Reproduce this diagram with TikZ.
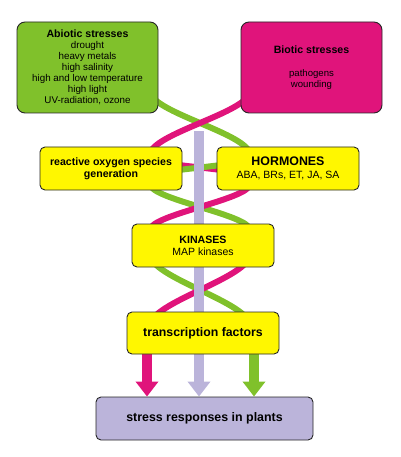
\documentclass[tikz,border=0pt]{standalone}
\usepackage{fontspec}
\setmainfont{Liberation Sans}
\usetikzlibrary{arrows.meta,backgrounds}

\definecolor{abioticgreen}{HTML}{80C12B}
\definecolor{bioticpink}{HTML}{E0147B}
\definecolor{boxyellow}{HTML}{FFF700}
\definecolor{lilac}{HTML}{BBB4DA}

\tikzset{
	box/.style={draw=black!85,line width=0.9pt,rounded corners=5pt,inner sep=0pt,align=center,minimum width=142pt,minimum height=43pt},
	strand/.style={line width=6pt},
	bigarrow/.style={line width=10pt,-{Triangle[width=22pt,length=15pt]}}
}

\begin{document}
\begin{tikzpicture}[x=1pt,y=-1pt]
\useasboundingbox (0,0) rectangle (400,457);

\node[box,fill=abioticgreen,rounded corners=8pt,minimum width=141pt,minimum height=91pt,font=\fontsize{9.8}{11}\selectfont] (abiotic) at (87.5,67.5) {{\fontsize{10.6}{12}\selectfont\bfseries Abiotic stresses}\\drought\\heavy metals\\high salinity\\high and low temperature\\high light\\UV-radiation, ozone};
\node[box,fill=bioticpink,rounded corners=8pt,minimum width=141pt,minimum height=91pt,font=\fontsize{9.6}{11}\selectfont] (biotic) at (311.5,67.5) {{\fontsize{10.6}{12}\selectfont\bfseries Biotic stresses}\\[12pt]pathogens\\wounding};

\node[box,fill=boxyellow,font=\fontsize{10.6}{12}\selectfont\bfseries] (ros) at (111,168.5) {reactive oxygen species\\generation};
\node[box,fill=boxyellow,font=\fontsize{10.5}{13}\selectfont] (hormones) at (288,168.5) {{\fontsize{12.4}{13}\selectfont\bfseries HORMONES}\\ABA, BRs, ET, JA, SA};
\node[box,fill=boxyellow,font=\fontsize{10.5}{12}\selectfont] (kinases) at (203,245.5) {{\fontsize{10.6}{12}\selectfont\bfseries KINASES}\\MAP kinases};
\node[box,fill=boxyellow,minimum width=152pt,minimum height=42pt,font=\fontsize{12.3}{14}\selectfont\bfseries] (tf) at (203,333) {transcription factors};
\node[box,fill=lilac,minimum width=217pt,font=\fontsize{12.4}{14}\selectfont\bfseries] (resp) at (204.5,418.5) {stress responses in plants};

\begin{scope}[on background layer]
% helix
\foreach \ya/\yb in {91/155,184/230,254/326}{
	\draw[strand,abioticgreen](150,\ya) .. controls (150,{\ya+(\yb-\ya)/3}) and (250,{\yb-(\yb-\ya)/3}) .. (250,\yb);
	\draw[strand,bioticpink](250,\ya) .. controls (250,{\ya+(\yb-\ya)/3}) and (150,{\yb-(\yb-\ya)/3}) .. (150,\yb);
}
\draw[strand,bioticpink](170,164)--(230,171);
\draw[strand,abioticgreen](230,164)--(170,171);

\coordinate (ltop) at (199,131);
\coordinate (pk) at ([xshift=-56pt]tf.south);
\coordinate (gr) at ([xshift=51pt]tf.south);
\draw[bigarrow,lilac](ltop)--(ltop |- resp.north);
\draw[bigarrow,bioticpink](pk)--(pk |- resp.north);
\draw[bigarrow,abioticgreen](gr)--(gr |- resp.north);
\end{scope}

\end{tikzpicture}
\end{document}
